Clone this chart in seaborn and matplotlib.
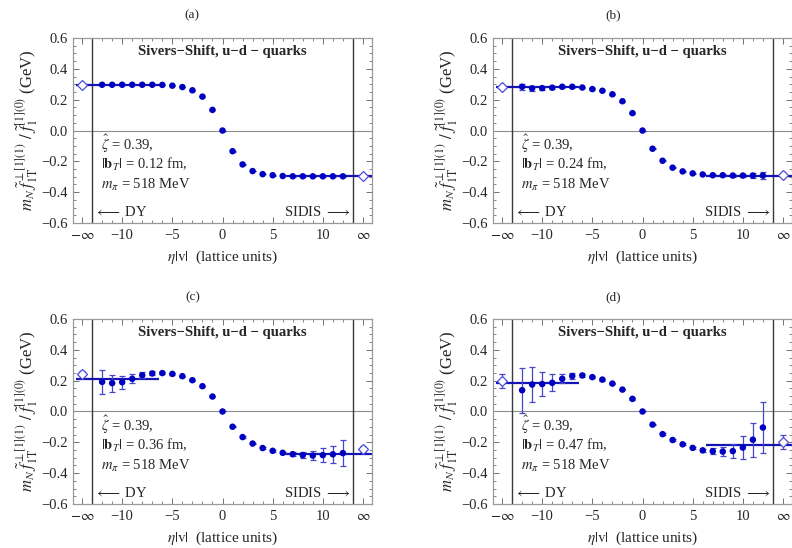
import numpy as np
import pandas as pd
import seaborn as sns
from matplotlib import pyplot as plt
from matplotlib.ticker import MultipleLocator, FixedLocator

# lattice separations eta|v| (finite points) and the extrapolated ends
eta = [-12, -11, -10, -9, -8, -7, -6, -5, -4, -3, -2, -1, 0,
       1, 2, 3, 4, 5, 6, 7, 8, 9, 10, 11, 12]
eta_inf = [-14, 14]

panels = ['(a)', '(b)', '(c)', '(d)']
bT = ['0.12', '0.24', '0.36', '0.47']

# panel (a) |bT| = 0.12 fm
vals_a = [0.297, 0.297, 0.297, 0.297, 0.297, 0.297, 0.296, 0.291, 0.282, 0.261, 0.220, 0.134, 0.0,
          -0.134, -0.220, -0.263, -0.283, -0.290, -0.295, -0.297, -0.297, -0.297, -0.297, -0.297, -0.297]
errs_a = [0.004, 0.004, 0.003, 0.003, 0.003, 0.003, 0.002, 0.002, 0.002, 0.002, 0.002, 0.002, 0.0,
          0.002, 0.002, 0.002, 0.002, 0.002, 0.002, 0.003, 0.003, 0.003, 0.003, 0.004, 0.004]
inf_a = [0.298, -0.298]
inf_err_a = [0.004, 0.004]
plat_a = [0.298, -0.298]

# panel (b) |bT| = 0.24 fm
vals_b = [0.284, 0.274, 0.275, 0.278, 0.284, 0.284, 0.279, 0.269, 0.258, 0.235, 0.190, 0.113, 0.0,
          -0.118, -0.196, -0.241, -0.265, -0.278, -0.285, -0.290, -0.290, -0.292, -0.292, -0.292, -0.292]
errs_b = [0.020, 0.015, 0.012, 0.010, 0.008, 0.006, 0.004, 0.004, 0.003, 0.003, 0.003, 0.003, 0.0,
          0.003, 0.003, 0.003, 0.003, 0.004, 0.004, 0.006, 0.008, 0.010, 0.012, 0.015, 0.020]
inf_b = [0.284, -0.290]
inf_err_b = [0.006, 0.006]
plat_b = [0.283, -0.292]

# panel (c) |bT| = 0.36 fm
vals_c = [0.192, 0.184, 0.190, 0.212, 0.235, 0.247, 0.249, 0.244, 0.229, 0.203, 0.164, 0.097, 0.0,
          -0.099, -0.166, -0.208, -0.237, -0.255, -0.268, -0.277, -0.283, -0.286, -0.283, -0.278, -0.270]
errs_c = [0.080, 0.055, 0.042, 0.030, 0.020, 0.013, 0.006, 0.005, 0.004, 0.004, 0.004, 0.004, 0.0,
          0.004, 0.004, 0.004, 0.004, 0.005, 0.006, 0.013, 0.020, 0.030, 0.043, 0.056, 0.082]
inf_c = [0.245, -0.243]
inf_err_c = [0.017, 0.017]
plat_c = [0.210, -0.277]

# panel (d) |bT| = 0.47 fm
vals_d = [0.138, 0.175, 0.178, 0.186, 0.212, 0.230, 0.234, 0.223, 0.207, 0.181, 0.142, 0.082, 0.0,
          -0.085, -0.147, -0.185, -0.213, -0.236, -0.252, -0.258, -0.260, -0.257, -0.234, -0.183, -0.104]
errs_d = [0.145, 0.113, 0.080, 0.056, 0.030, 0.020, 0.010, 0.006, 0.006, 0.005, 0.005, 0.005, 0.0,
          0.005, 0.005, 0.005, 0.006, 0.006, 0.010, 0.020, 0.030, 0.047, 0.077, 0.110, 0.165]
inf_d = [0.198, -0.200]
inf_err_d = [0.045, 0.045]
plat_d = [0.187, -0.215]

# plateau fit ranges (left / right)
plat_x = [(-14.6, -6.3), (6.3, 14.9)]

all_vals = [vals_a, vals_b, vals_c, vals_d]
all_errs = [errs_a, errs_b, errs_c, errs_d]
all_inf = [inf_a, inf_b, inf_c, inf_d]
all_inf_err = [inf_err_a, inf_err_b, inf_err_c, inf_err_d]
all_plat = [plat_a, plat_b, plat_c, plat_d]

xtick_pos = [-14, -10, -5, 0, 5, 10, 14]
xtick_lab = ['$-\\infty$', '\u221210', '\u22125', '0', '5', '10', '$\\infty$']
ytick_pos = [-0.6, -0.4, -0.2, 0.0, 0.2, 0.4, 0.6]
ytick_lab = ['\u22120.6', '\u22120.4', '\u22120.2', '0.0', '0.2', '0.4', '0.6']

sns.set_style("ticks")
plt.rcParams['font.family'] = ['Liberation Serif', 'DejaVu Serif']
plt.rcParams['mathtext.fontset'] = 'stix'
plt.rcParams['font.size'] = 10

c_pt = '#0000c0'
c_err = '#4646c8'
c_line = '#1414b4'
c_frame = '#9a9a9a'

fig = plt.figure(figsize=(7.92, 5.48), dpi=100)

# axes boxes in figure fractions: (left, bottom)
boxes = [(0.0922, 0.593), (0.6225, 0.593), (0.0922, 0.0803), (0.6225, 0.0803)]
title_xy = [(0.242, 0.972), (0.774, 0.972), (0.244, 0.458), (0.774, 0.458)]

for i in range(4):
    ax = fig.add_axes([boxes[i][0], boxes[i][1], 0.3775, 0.3376])
    df = pd.DataFrame({'eta': eta, 'val': all_vals[i], 'err': all_errs[i]})

    ax.axhline(0, color='#8c8c8c', lw=0.8, zorder=1)
    ax.axvline(-13, color='#3a3a3a', lw=1.0, zorder=1)
    ax.axvline(13, color='#3a3a3a', lw=1.0, zorder=1)

    # plateau fits
    ax.hlines(all_plat[i][0], plat_x[0][0], plat_x[0][1], color=c_line, lw=1.6, zorder=2)
    ax.hlines(all_plat[i][1], plat_x[1][0], plat_x[1][1], color=c_line, lw=1.6, zorder=2)

    ax.errorbar(df['eta'], df['val'], yerr=df['err'], fmt='none', ecolor=c_err,
                elinewidth=0.9, capsize=2.5, capthick=0.9, zorder=3)
    sns.scatterplot(data=df, x='eta', y='val', ax=ax, color=c_pt, s=22,
                    edgecolor='none', marker='o', zorder=4, legend=False)

    # extrapolated eta -> +-infinity
    ax.errorbar(eta_inf, all_inf[i], yerr=all_inf_err[i], fmt='D', mfc='white',
                mec='#4a4ae0', mew=0.9, ms=5.5, ecolor=c_err, elinewidth=0.9,
                capsize=2.5, capthick=0.9, zorder=5)

    ax.set_xlim(-14.9, 14.9)
    ax.set_ylim(-0.6, 0.6)
    ax.xaxis.set_major_locator(FixedLocator(xtick_pos))
    ax.set_xticklabels(xtick_lab)
    ax.xaxis.set_minor_locator(FixedLocator([v for v in range(-13, 14)]))
    ax.yaxis.set_major_locator(FixedLocator(ytick_pos))
    ax.set_yticklabels(ytick_lab)
    ax.yaxis.set_minor_locator(MultipleLocator(0.05))
    ax.tick_params(which='both', direction='in', top=True, right=True,
                   color='#707070', labelsize=10.5, pad=4)
    ax.tick_params(which='major', length=4, width=0.7)
    ax.tick_params(which='minor', length=2, width=0.6)
    for sp in ax.spines.values():
        sp.set_color(c_frame)
        sp.set_linewidth(0.9)

    ax.set_xlabel('$\\eta|\\mathrm{v}|$  (lattice units)', fontsize=11, labelpad=5)
    ax.set_ylabel('$m_N\\;\\tilde{f}_{\\mathrm{1T}}^{\\perp[1](1)}\\ /\\ \\tilde{f}_{1}^{[1](0)}$ (GeV)',
                  fontsize=12, labelpad=1)

    ax.text(0, 0.513, 'Sivers\u2212Shift, u\u2212d \u2212 quarks', ha='center', va='center',
            fontsize=10.5, fontweight='bold')
    ax.text(-12.1, -0.086, '$\\hat{\\zeta}$ = 0.39,', ha='left', va='center', fontsize=10.5)
    ax.text(-12.1, -0.22, '$|\\mathbf{b}_T|$ = ' + bT[i] + ' fm,', ha='left', va='center', fontsize=10.5)
    ax.text(-12.1, -0.355, '$m_\\pi$ = 518 MeV', ha='left', va='center', fontsize=10.5)
    ax.text(-12.85, -0.528, '$\\longleftarrow$ DY', ha='left', va='center', fontsize=10.5)
    ax.text(12.75, -0.528, 'SIDIS $\\longrightarrow$', ha='right', va='center', fontsize=10.5)

    fig.text(title_xy[i][0], title_xy[i][1], panels[i], ha='center', va='center', fontsize=9.5)

fig.savefig('out.png', dpi=100)
